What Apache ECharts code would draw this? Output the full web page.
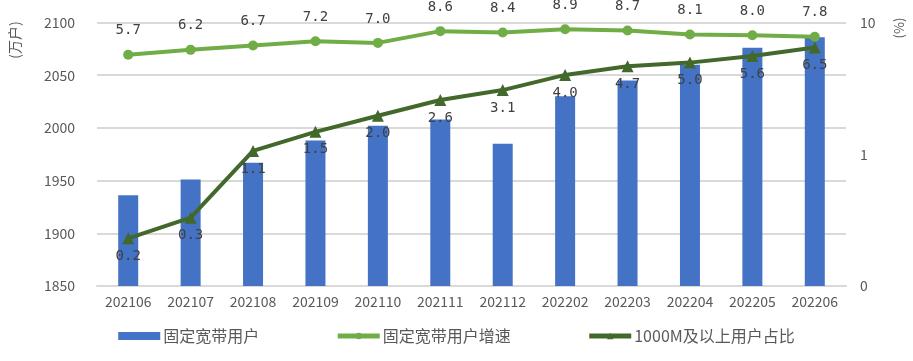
<!DOCTYPE html>
<html><head><meta charset="utf-8">
<script src="https://cdn.jsdelivr.net/npm/echarts@6/dist/echarts.min.js"></script>
<style>html,body{margin:0;padding:0;background:#fff}#c{width:913px;height:361px}</style>
</head><body><div id="c"></div>
<script>
const categories = ['202106','202107','202108','202109','202110','202111','202112','202202','202203','202204','202205','202206'];
const users = [1936, 1951, 1967, 1988, 2002, 2008, 1985, 2030, 2045, 2060, 2076, 2086];
const growth = [5.7, 6.2, 6.7, 7.2, 7.0, 8.6, 8.4, 8.9, 8.7, 8.1, 8.0, 7.8];
const share1000M = [0.23, 0.33, 1.06, 1.48, 1.96, 2.58, 3.07, 4.0, 4.66, 4.96, 5.56, 6.46];
const leftTicks = [1850, 2100, 50];
const rightTicks = [0.1, 10];
const names = ['固定宽带用户', '固定宽带用户增速', '1000M及以上用户占比'];

const font = 'Noto Sans CJK SC';
const txt = '#595959';
const chart = echarts.init(document.getElementById('c'));
chart.setOption({
  animation: false,
  textStyle: { fontFamily: font },
  grid: { left: 97, right: 67, top: 22.5, bottom: 75, containLabel: false },
  legend: {
    bottom: 12, left: 'center', itemGap: 76, itemWidth: 42, itemHeight: 8,
    textStyle: { fontSize: 16, color: txt, fontFamily: font, padding: [0, 0, 0, -2] },
    lineStyle: { width: 5 },
    data: [
      { name: names[0], icon: 'rect', itemStyle: { color: '#4472C4' } },
      { name: names[1] },
      { name: names[2] }
    ]
  },
  xAxis: {
    type: 'category', data: categories,
    axisLine: { lineStyle: { color: '#D9D9D9', width: 2 } },
    axisTick: { show: false },
    axisLabel: { color: txt, fontSize: 14, margin: 9, fontFamily: font, interval: 0 }
  },
  yAxis: [
    {
      type: 'value', min: leftTicks[0], max: leftTicks[1], interval: leftTicks[2],
      axisLine: { show: false }, axisTick: { show: false },
      axisLabel: { color: txt, fontSize: 14, margin: 22, fontFamily: font, formatter: v => String(v) },
      splitLine: { lineStyle: { color: '#D9D9D9', width: 2 } }
    },
    {
      type: 'log', logBase: 10, min: rightTicks[0], max: rightTicks[1],
      axisLine: { show: false }, axisTick: { show: false },
      axisLabel: { color: txt, fontSize: 14, margin: 14, fontFamily: font,
        formatter: v => v < 0.5 ? '0' : String(Math.round(v)) },
      splitLine: { show: false }
    }
  ],
  graphic: [
    { type: 'text', x: 15, y: 40, rotation: Math.PI / 2,
      style: { text: '(万户)', fill: txt, font: '14px "Noto Sans CJK SC"', textAlign: 'center', textVerticalAlign: 'middle' } },
    { type: 'text', x: 899, y: 28, rotation: Math.PI / 2,
      style: { text: '(%)', fill: txt, font: '13px "Noto Sans CJK SC"', textAlign: 'center', textVerticalAlign: 'middle' } }
  ],
  series: [
    {
      name: names[0], type: 'bar', data: users, barWidth: 20,
      itemStyle: { color: '#4472C4' }, yAxisIndex: 0
    },
    {
      name: names[1], type: 'line', data: growth, yAxisIndex: 1,
      symbol: 'circle', symbolSize: 10,
      lineStyle: { color: '#70AD47', width: 4 }, itemStyle: { color: '#70AD47' },
      label: { show: true, position: 'top', distance: 12, color: '#404040', fontSize: 14,
        fontFamily: 'DejaVu Sans Mono', formatter: p => p.value.toFixed(1) }
    },
    {
      name: names[2], type: 'line', data: share1000M, yAxisIndex: 1,
      symbol: 'triangle', symbolSize: 12,
      lineStyle: { color: '#43682B', width: 4 }, itemStyle: { color: '#43682B' },
      label: { show: true, position: 'bottom', distance: 5, color: '#404040', fontSize: 14,
        fontFamily: 'DejaVu Sans Mono', formatter: p => p.value.toFixed(1) }
    }
  ]
});
</script></body></html>
